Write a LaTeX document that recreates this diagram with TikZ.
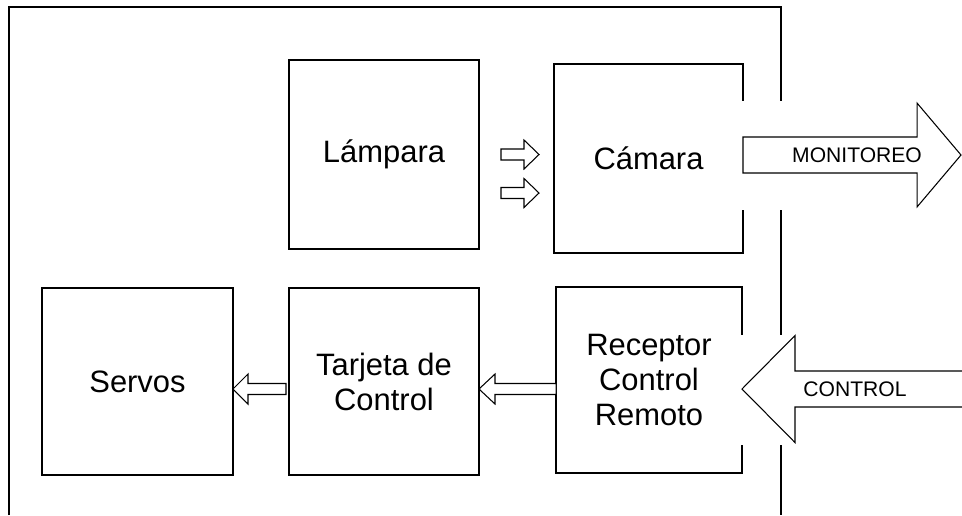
\documentclass[tikz,border=0pt]{standalone}
\usepackage{fontspec}
\setmainfont{Liberation Sans}
\usetikzlibrary{calc}

% hollow block arrow: tail, tip, shaft half width, head half width, head length
\newcommand{\hollowarrow}[5]{%
  \path ($(#2)!#5!(#1)$) coordinate (hb);
  \draw[blockarrow] ($(#1)!#3!90:(#2)$) -- ($(hb)!#3!90:(#2)$) -- ($(hb)!#4!90:(#2)$) -- (#2)
    -- ($(hb)!#4!-90:(#2)$) -- ($(hb)!#3!-90:(#2)$) -- ($(#1)!#3!-90:(#2)$) -- cycle;}

\begin{document}
\begin{tikzpicture}[x=0.02cm,y=-0.02cm,
  block/.style={draw,line width=0.75pt,inner sep=0pt,outer sep=0pt,align=center,
    font=\fontsize{17.6}{19.9}\selectfont},
  blockarrow/.style={draw,line width=0.6pt,fill=white,line join=miter},
  frame/.style={line width=1pt},
  gap/.style={white,line width=2pt},
  tag/.style={font=\fontsize{12}{14}\selectfont,inner sep=0pt}]
  \useasboundingbox (0,0) rectangle (962,515);
  % outer frame, broken where the signals cross it
  \draw[frame] (9,515) -- (9,7) -- (781,7) -- (781,101)
    (781,210) -- (781,335) (781,445) -- (781,515);
  % blocks
  \node[block,minimum width=3.8cm,minimum height=3.78cm] (lamp) at (384,154.5) {Lámpara};
  \node[block,minimum width=3.78cm,minimum height=3.78cm] (cam) at (648.5,158.5) {Cámara};
  \node[block,minimum width=3.72cm,minimum height=3.72cm] (recv) at (649,380) {Receptor\\Control\\Remoto};
  \node[block,minimum width=3.8cm,minimum height=3.74cm] (card) at (384,381.5) {Tarjeta de\\Control};
  \node[block,minimum width=3.82cm,minimum height=3.74cm] (servo) at (137.5,381.5) {Servos};
  \draw[gap] (cam.east |- 0,101) -- (cam.east |- 0,210);
  \draw[gap] (recv.east |- 0,335) -- (recv.east |- 0,445);
  % light from the lamp
  \foreach \y [count=\i] in {154.5,193} {
    \coordinate (lt\i) at (501,\y);
    \coordinate (lh\i) at (539,\y);
    \hollowarrow{lt\i}{lh\i}{0.11cm}{0.29cm}{0.3cm}
  }
  % control chain
  \coordinate (rc) at (recv.west |- 0,389);
  \coordinate (cr) at (card.east |- 0,389);
  \coordinate (cs) at ([xshift=-0.06cm]card.west |- 0,389);
  \coordinate (sc) at (servo.east |- 0,389);
  \hollowarrow{rc}{cr}{0.11cm}{0.3cm}{0.32cm}
  \hollowarrow{cs}{sc}{0.11cm}{0.3cm}{0.3cm}
  % outside signals
  \coordinate (mt) at (cam.east |- 0,155);
  \coordinate (mh) at (961,155);
  \hollowarrow{mt}{mh}{0.36cm}{1.04cm}{0.88cm}
  \node[tag] (mon) at (857,155) {MONITOREO};
  \coordinate (ct) at (966,389);
  \coordinate (ch) at (recv.east |- 0,389);
  \hollowarrow{ct}{ch}{0.36cm}{1.07cm}{1.06cm}
  \node[tag] (ctl) at (855,389) {CONTROL};
\end{tikzpicture}
\end{document}
